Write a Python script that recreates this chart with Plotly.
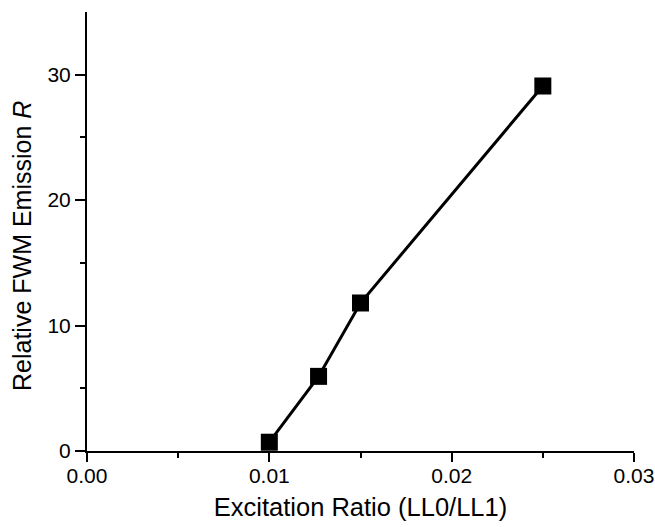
import plotly.graph_objects as go

excitation_ratio = [0.0100, 0.0127, 0.0150, 0.0250]
relative_fwm = [0.7, 5.95, 11.8, 29.1]

fig = go.Figure()
fig.add_trace(go.Scatter(
    x=excitation_ratio, y=relative_fwm, mode="lines+markers",
    line=dict(color="black", width=3),
    marker=dict(symbol="square", size=17, color="black"),
    showlegend=False, cliponaxis=False,
))

font = dict(family="Arial, Liberation Sans, sans-serif", color="black")
fig.update_layout(
    width=655, height=527,
    margin=dict(l=87, r=21, t=12, b=76),
    paper_bgcolor="white", plot_bgcolor="white",
    font=dict(**font, size=21),
)
fig.update_xaxes(
    range=[0, 0.03], tickvals=[0, 0.01, 0.02, 0.03],
    ticktext=["0.00", "0.01", "0.02", "0.03"],
    showline=True, linecolor="black", linewidth=2, mirror=False,
    ticks="outside", ticklen=9, tickwidth=2, tickcolor="black",
    minor=dict(tickvals=[0.005, 0.015, 0.025], ticks="outside", ticklen=5, tickwidth=2, tickcolor="black"),
    showgrid=False, zeroline=False, automargin=False,
    ticklabelstandoff=-4,
    title=dict(text="Excitation Ratio (LL0/LL1)", font=dict(size=25.5), standoff=12),
    tickfont=dict(size=21),
)
fig.update_yaxes(
    range=[0, 35], tickvals=[0, 10, 20, 30],
    showline=True, linecolor="black", linewidth=2, mirror=False,
    ticks="outside", ticklen=10, tickwidth=2, tickcolor="black",
    minor=dict(tickvals=[5, 15, 25], ticks="outside", ticklen=5, tickwidth=2, tickcolor="black"),
    showgrid=False, zeroline=False, automargin=False,
    tickfont=dict(size=21),
)
fig.add_annotation(
    text="Relative FWM Emission <i>R</i>", textangle=-90,
    xref="paper", yref="paper", x=0, y=(451 - 246) / 439,
    xshift=-65, xanchor="center", yanchor="middle", showarrow=False,
    font=dict(size=25),
)
fig.write_html("out.html")
